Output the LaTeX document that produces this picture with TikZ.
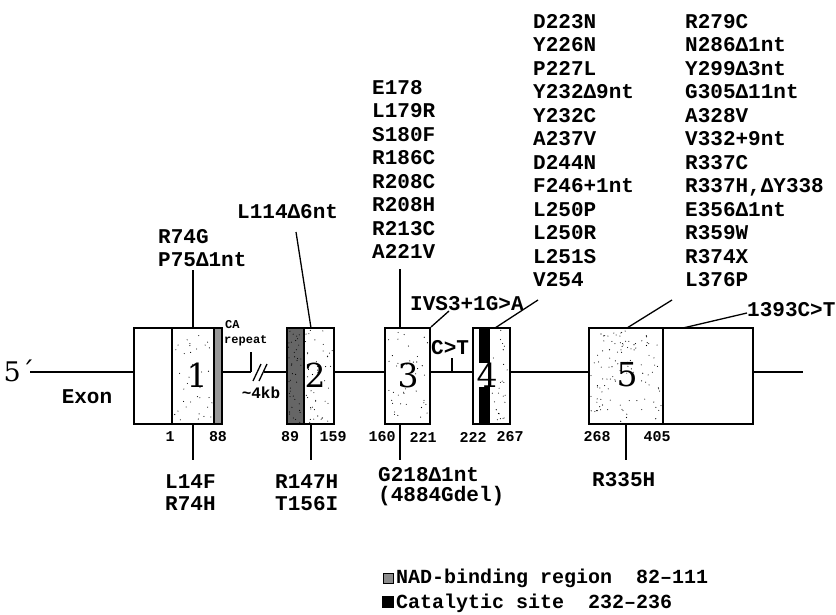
\documentclass[tikz,border=0pt]{standalone}
\usepackage{fontspec}
\setmainfont{Liberation Mono}
\newfontfamily\digitfont{DejaVu Serif}
\begin{document}
\begin{tikzpicture}[x=1pt,y=-1pt,
  ln/.style={line width=1.3pt},
  exonbox/.style={draw,line width=2pt,inner sep=0pt},
  lab/.style={font=\fontsize{21}{23.5}\selectfont\bfseries,inner sep=0pt,align=left,anchor=north west},
  blab/.style={font=\fontsize{21}{22}\selectfont\bfseries,inner sep=0pt,align=left,anchor=north west},
  num/.style={font=\fontsize{15}{15}\selectfont\bfseries,inner sep=0pt},
  big/.style={font=\digitfont\fontsize{33}{33}\selectfont,inner sep=0pt}]
\useasboundingbox (0,0) rectangle (836,615);
\pgfmathsetseed{7}
\newcommand\stipple[5]{%
  \foreach \k in {1,...,#5}{%
    \pgfmathsetmacro\sx{#1+1.5+rnd*(#3-#1-3)}%
    \pgfmathsetmacro\sy{#2+1.5+rnd*(#4-#2-3)}%
    \fill (\sx,\sy) circle[radius=0.55];}}
% ---- interior fills
\stipple{172}{328}{214}{424}{35}
\fill[black!40] (214,328) rectangle (222,424);
\fill[black!60] (287,328) rectangle (304,424);
\stipple{287}{328}{304}{424}{40}
\stipple{304}{328}{334}{424}{45}
\stipple{385}{328}{430}{424}{40}
\fill[black] (479,328) rectangle (490,424);
\stipple{490}{328}{510}{424}{25}
\stipple{589}{328}{663}{424}{110}
% ---- exon boxes
\node[exonbox,minimum width=88,minimum height=96] (e1) at (178,376) {};
\node[exonbox,minimum width=47,minimum height=96] (e2) at (310.5,376) {};
\node[exonbox,minimum width=45,minimum height=96] (e3) at (407.5,376) {};
\node[exonbox,minimum width=37,minimum height=96] (e4) at (491.5,376) {};
\node[exonbox,minimum width=164,minimum height=96] (e5) at (671,376) {};
\draw[line width=2pt] (172,328) -- (172,424);
\draw[line width=2pt] (663,328) -- (663,424);
\draw[line width=1.2pt] (214,328) -- (214,424);
\draw[line width=1.2pt] (304,328) -- (304,424);
% ---- big numbers
\node[big] (n1) at (197,375) {1};
\node[big] (n2) at (315,375) {2};
\node[big] (n3) at (408,375) {3};
\node[big,fill=white,inner xsep=0.5pt,inner ysep=0pt] (n4) at (487,375) {4};
\node[big] (n5) at (627,375) {5};
% ---- main line
\node[font=\digitfont\fontsize{27}{27}\selectfont,inner sep=0pt] (five) at (19,371) {5´};
\coordinate (c5) at (30,372);
\coordinate (brk1) at (251,372);
\coordinate (brk2) at (264,372);
\coordinate (c3) at (803,372);
\draw[ln] (c5) -- (c5 -| e1.west);
\draw[ln] (c5 -| e1.east) -- (brk1);
\draw[ln] (brk2) -- (brk2 -| e2.west);
\draw[ln] (c5 -| e2.east) -- (c5 -| e3.west);
\draw[ln] (c5 -| e3.east) -- (c5 -| e4.west);
\draw[ln] (c5 -| e4.east) -- (c5 -| e5.west);
\draw[ln] (c5 -| e5.east) -- (c3);
\coordinate (tick) at (251,352);
\draw[ln] (tick) -- (brk1);
\draw[ln] (253,381) -- (261,364);
\draw[ln] (259,381) -- (267,364);
\node[font=\fontsize{12}{12}\selectfont\bfseries,inner sep=0pt,anchor=west] (ca) at (225,325) {CA};
\node[font=\fontsize{12}{12}\selectfont\bfseries,inner sep=0pt,anchor=west] (rep) at (224,341) {repeat};
\node[font=\fontsize{16}{16}\selectfont\bfseries,inner sep=0pt] (kb) at (261,393) {\textasciitilde4kb};
\node[font=\fontsize{21}{21}\selectfont\bfseries,inner sep=0pt] (exon) at (87,397) {Exon};
% C>T
\coordinate (ct) at (452,358);
\draw[ln] (ct) -- (ct |- c5);
\node[font=\fontsize{21}{21}\selectfont\bfseries,inner sep=0pt,anchor=west] (ctl) at (431,348) {C>T};
% ---- top labels
\node[lab] (l1) at (158,229) {R74G\\P75Δ1nt};
\node[lab] (l2) at (237,204) {L114Δ6nt};
\node[lab] (l3) at (372,80) {E178\\L179R\\S180F\\R186C\\R208C\\R208H\\R213C\\A221V};
\node[lab] (l4) at (533,14) {D223N\\Y226N\\P227L\\Y232Δ9nt\\Y232C\\A237V\\D244N\\F246+1nt\\L250P\\L250R\\L251S\\V254};
\node[lab] (l5) at (685,14) {R279C\\N286Δ1nt\\Y299Δ3nt\\G305Δ11nt\\A328V\\V332+9nt\\R337C\\R337H,ΔY338\\E356Δ1nt\\R359W\\R374X\\L376P};
\node[lab] (l6) at (410,296) {IVS3+1G>A};
\node[lab] (l7) at (747,302) {1393C>T};
\coordinate (t1) at (193,270);
\draw[ln] (t1) -- (t1 |- e1.north);
\coordinate (t2) at (296,232);
\draw[ln] (t2) -- (311,328);
\coordinate (t3) at (400,269);
\draw[ln] (t3) -- (t3 |- e3.north);
\coordinate (t4) at (449,311);
\draw[ln] (e3.north east) -- (t4);
\coordinate (t5) at (538,300);
\draw[ln] (495,328) -- (t5);
\coordinate (t6) at (672,300);
\draw[ln] (627,328) -- (t6);
\coordinate (t7) at (747,313);
\draw[ln] (683,328) -- (t7);
% ---- bottom numbers
\node[num] (p1) at (170,437) {1};
\node[num] (p88) at (218,437) {88};
\node[num] (p89) at (290,437) {89};
\node[num] (p159) at (333,437) {159};
\node[num] (p160) at (382,437) {160};
\node[num] (p221) at (423,437) {221};
\node[num] (p222) at (473,437) {222};
\node[num] (p267) at (510,437) {267};
\node[num] (p268) at (597,437) {268};
\node[num] (p405) at (657,437) {405};
% ---- bottom labels
\coordinate (b1) at (193,460);
\coordinate (b2) at (311,460);
\coordinate (b3) at (400,460);
\coordinate (b4) at (626,460);
\draw[ln] (b1 |- e1.south) -- (b1);
\draw[ln] (b2 |- e2.south) -- (b2);
\draw[ln] (b3 |- e3.south) -- (b3);
\draw[ln] (b4 |- e5.south) -- (b4);
\node[blab] (m1) at (165,474) {L14F\\R74H};
\node[blab] (m2) at (275,474) {R147H\\T156I};
\node[font=\fontsize{21}{20}\selectfont\bfseries,inner sep=0pt,align=left,anchor=north west] (m3) at (378,467) {G218Δ1nt\\(4884Gdel)};
\node[blab] (m4) at (592,472) {R335H};
% ---- legend
\node[draw,fill=black!45,line width=0.6pt,minimum size=10,inner sep=0pt] (sq1) at (388,578) {};
\node[draw,fill=black,minimum size=11,inner sep=0pt] (sq2) at (388,602) {};
\node[font=\fontsize{20}{20}\selectfont\bfseries,inner sep=0pt,anchor=west] (g1) at (396,578) {NAD-binding region\ \ 82–111};
\node[font=\fontsize{20}{20}\selectfont\bfseries,inner sep=0pt,anchor=west] (g2) at (396,603) {Catalytic site\ \ 232–236};
\end{tikzpicture}
\end{document}
